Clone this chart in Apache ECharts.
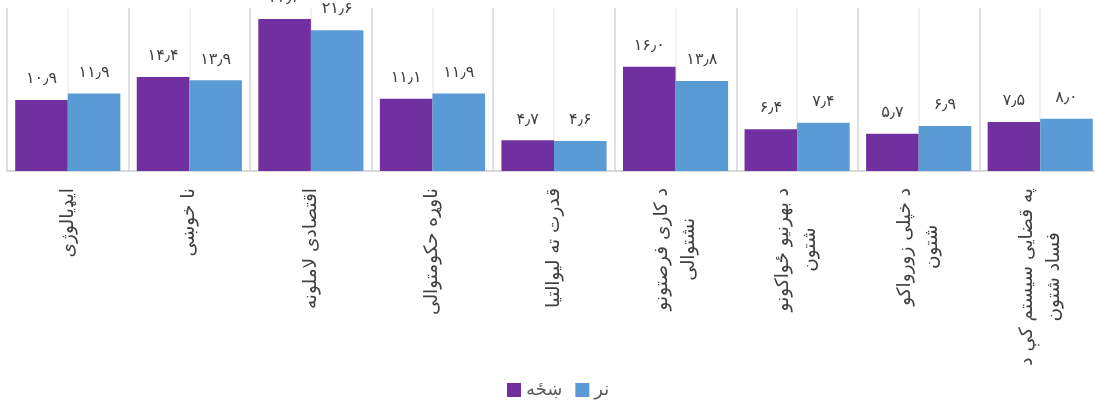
<!DOCTYPE html>
<html>
<head>
<meta charset="utf-8">
<script src="https://cdn.jsdelivr.net/npm/echarts@6/dist/echarts.min.js"></script>
<style>
html,body{margin:0;padding:0;background:#fff;}
#chart{width:1095px;height:402px;}
</style>
</head>
<body>
<div id="chart"></div>
<script>
const categories = [
  'ایډیالوژی',
  'نا خوښی',
  'اقتصادی لاملونه',
  'ناوړه حکومتوالی',
  'قدرت ته لیوالتیا',
  'د کاری فرصتونو\nنشتوالی',
  'د بهرنیو ځواکونو\nشتون',
  'د خپلی زورواکو\nشتون',
  'په قضایی سیستم کې د\nفساد شتون'
];
const seriesNames = ['ښځه', 'نر'];
const womenValues = [10.9, 14.4, 23.3, 11.1, 4.7, 16.0, 6.4, 5.7, 7.5];
const menValues = [11.9, 13.9, 21.6, 11.9, 4.6, 13.8, 7.4, 6.9, 8.0];

const persianDigits = '۰۱۲۳۴۵۶۷۸۹';
function toPersian(v) {
  return v.toFixed(1).replace(/\d/g, d => persianDigits[+d]).replace('.', '٫');
}

const FONT = '"DejaVu Sans", sans-serif';
const chart = echarts.init(document.getElementById('chart'));
const labelStyle = {
  show: true,
  position: 'top',
  distance: 13,
  color: '#404040',
  fontSize: 16,
  fontFamily: FONT,
  formatter: p => toPersian(p.value)
};
chart.setOption({
  animation: false,
  grid: { left: 7, width: 1094, top: 8, height: 163, containLabel: false, outerBoundsMode: 'none' },
  legend: {
    bottom: -2,
    left: 502,
    itemWidth: 14,
    itemHeight: 14,
    itemGap: 13,
    icon: 'rect',
    textStyle: { color: '#595959', fontSize: 18, fontFamily: FONT },
    data: seriesNames
  },
  xAxis: [
    {
      type: 'category',
      data: categories,
      axisTick: { show: false },
      axisLine: { lineStyle: { color: '#d9d9d9', width: 2 } },
      splitLine: { show: false },
      axisLabel: {
        interval: 0,
        rotate: 90,
        margin: 17,
        color: '#404040',
        fontSize: 18.5,
        fontFamily: FONT,
        formatter: v => v.split('\n').map(l => '{c|' + l + '}').join('\n'),
        rich: { c: { align: 'center', fontSize: 18.5, fontFamily: FONT, color: '#404040', lineHeight: 27 } }
      }
    },
    {
      type: 'value',
      position: 'top',
      min: 0,
      max: 9,
      interval: 0.5,
      axisLine: { show: false },
      axisTick: { show: false },
      axisLabel: { show: false },
      splitLine: { show: true, lineStyle: { color: ['#d4d4d4', '#ececec'], width: 1.5 } }
    }
  ],
  yAxis: {
    type: 'value',
    min: 0,
    max: 25,
    show: false,
    splitLine: { show: false }
  },
  series: [
    {
      name: seriesNames[0],
      type: 'bar',
      data: womenValues,
      barGap: '0%',
      barCategoryGap: '13.5%',
      itemStyle: { color: '#7030A0' },
      label: labelStyle
    },
    {
      name: seriesNames[1],
      type: 'bar',
      data: menValues,
      barGap: '0%',
      barCategoryGap: '13.5%',
      itemStyle: { color: '#5B9BD5' },
      label: labelStyle
    }
  ]
});
</script>
</body>
</html>
